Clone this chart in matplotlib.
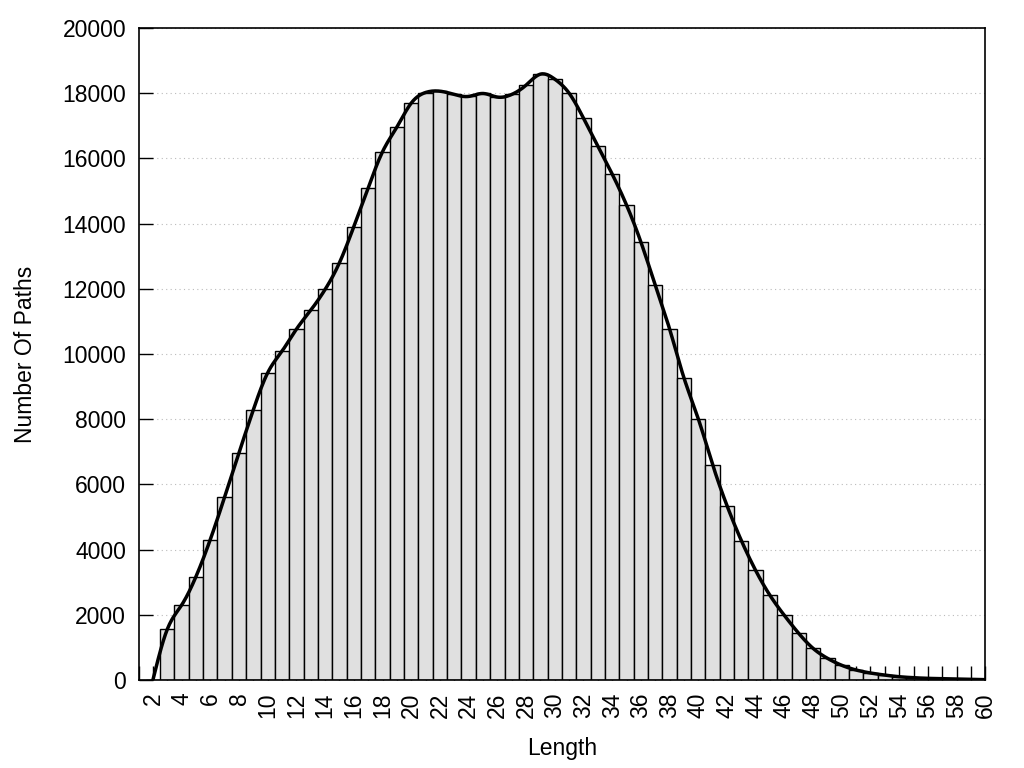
import matplotlib
matplotlib.use("Agg")
import matplotlib.pyplot as plt
import numpy as np

# Path length histogram
lengths = list(range(2, 61))
counts = [
    0, 1552, 2297, 3170, 4309, 5615, 6973, 8290, 9424, 10088,       # 2-11
    10761, 11343, 11980, 12800, 13906, 15091, 16203, 16959, 17695, 18020,  # 12-21
    18060, 17960, 17900, 17990, 17880, 17960, 18245, 18583, 18430, 18000,  # 22-31
    17235, 16377, 15520, 14570, 13437, 12120, 10772, 9271, 8015, 6606,     # 32-41
    5350, 4278, 3359, 2593, 1980, 1430, 970, 665, 450, 306,                # 42-51
    214, 150, 100, 70, 50, 40, 30, 20, 10,                                 # 52-60
]
y_ticks = [0, 2000, 4000, 6000, 8000, 10000, 12000, 14000, 16000, 18000, 20000]
x_label_ticks = list(range(2, 61, 2))


def natural_cspline(x, y, xs):
    """Natural cubic spline through (x, y), evaluated at xs (like gnuplot csplines)."""
    x = np.asarray(x, float)
    y = np.asarray(y, float)
    n = len(x)
    h = np.diff(x)
    A = np.zeros((n, n))
    b = np.zeros(n)
    A[0, 0] = A[-1, -1] = 1.0
    for i in range(1, n - 1):
        A[i, i - 1] = h[i - 1]
        A[i, i] = 2 * (h[i - 1] + h[i])
        A[i, i + 1] = h[i]
        b[i] = 6 * ((y[i + 1] - y[i]) / h[i] - (y[i] - y[i - 1]) / h[i - 1])
    m = np.linalg.solve(A, b)
    idx = np.clip(np.searchsorted(x, xs) - 1, 0, n - 2)
    x0, x1 = x[idx], x[idx + 1]
    hh = x1 - x0
    t0 = x1 - xs
    t1 = xs - x0
    return (m[idx] * t0 ** 3 / (6 * hh) + m[idx + 1] * t1 ** 3 / (6 * hh)
            + (y[idx] / hh - m[idx] * hh / 6) * t0
            + (y[idx + 1] / hh - m[idx + 1] * hh / 6) * t1)


plt.rcParams["font.family"] = ["Liberation Sans", "DejaVu Sans"]

fig = plt.figure(figsize=(10.24, 7.68), dpi=100)
ax = fig.add_axes([0.1353, 0.1146, 0.8269, 0.849])

ax.bar(lengths, counts, width=1.0, color="#e0e0e0", edgecolor="black",
       linewidth=1.0, zorder=2)

xs = np.linspace(lengths[0], lengths[-1], 800)
ax.plot(xs, natural_cspline(lengths, counts, xs), color="black",
        linewidth=2.5, zorder=3)

ax.set_xlim(1, 60)
ax.set_ylim(0, 20000)
ax.set_yticks(y_ticks)
ax.set_xticks(x_label_ticks)
ax.set_xticks(range(1, 61, 2), minor=True)
ax.set_xticklabels([str(v) for v in x_label_ticks], rotation=90)

ax.tick_params(axis="both", which="both", direction="in", length=10,
               width=1.0, labelsize=16.5, top=False, right=False)
ax.tick_params(axis="y", pad=9)
ax.tick_params(axis="x", pad=9)

ax.grid(axis="y", linestyle=(0, (1, 3)), color="#bbbbbb", linewidth=0.8, zorder=1)
ax.set_axisbelow(True)
for s in ax.spines.values():
    s.set_linewidth(1.2)

ax.set_xlabel("Length", fontsize=16.5, labelpad=14)
ax.set_ylabel("Number Of Paths", fontsize=16.5, labelpad=18)

fig.savefig("out.png", dpi=100)
